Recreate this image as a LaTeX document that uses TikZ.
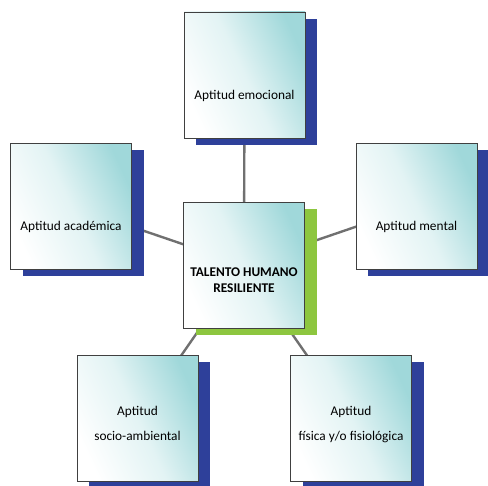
\documentclass[tikz,border=0pt]{standalone}
\usepackage{fontspec}
\setmainfont{Carlito}
\usetikzlibrary{shadows,backgrounds}
\definecolor{tealish}{RGB}{160,216,218}
\definecolor{shadowblue}{RGB}{46,64,154}
\definecolor{limegreen}{RGB}{141,198,63}
\definecolor{linkgray}{RGB}{112,112,112}
\newcommand{\boxtext}[2]{\raisebox{#1}[0pt][0pt]{\begin{tabular}{@{}c@{}}#2\end{tabular}}}

\begin{document}
\begin{tikzpicture}[x=0.75pt, y=-0.75pt, font=\fontsize{10}{12}\selectfont]
      \tikzstyle{card} = [rectangle, draw=black!75, thin, minimum width=90.75pt, minimum height=94.5pt, inner sep=0pt, top color=tealish, bottom color=white, middle color=tealish!30, shading angle=-65]
      \tikzstyle{aptitud} = [card, general shadow={fill=shadowblue, shadow xshift=9pt, shadow yshift=-5pt}]
      \tikzstyle{core} = [card, general shadow={fill=limegreen, shadow xshift=9pt, shadow yshift=-5pt}]
      \tikzstyle{line} = [draw, linkgray, line width=1.8pt]
        \useasboundingbox (0,0) rectangle (488,485);
        \node [core] (talento) at (244,265) {\boxtext{-15pt}{\textbf{TALENTO HUMANO}\\\textbf{RESILIENTE}}};
        \node [aptitud] (emocional) at (244.5,75) {\boxtext{-18.5pt}{Aptitud emocional}};
        \node [aptitud] (academica) at (71,206) {\boxtext{-18.5pt}{Aptitud académica}};
        \node [aptitud] (mental) at (416.5,206) {\boxtext{-18.5pt}{Aptitud mental}};
        \node [aptitud] (social) at (137.5,418.5) {\boxtext{-7pt}{Aptitud\\[7pt]socio-ambiental}};
        \node [aptitud] (fisica) at (351,418.5) {\boxtext{-7pt}{Aptitud\\[7pt]física y/o fisiológica}};
        \begin{scope}[on background layer]
        \path [line] (talento.center) -- (emocional.center);
        \path [line] (talento.center) -- (academica.center);
        \path [line] (talento.center) -- (mental.center);
        \path [line] (talento.center) -- (social.center);
        \path [line] (talento.center) -- (fisica.center);
        \end{scope}
      \end{tikzpicture}
\end{document}
